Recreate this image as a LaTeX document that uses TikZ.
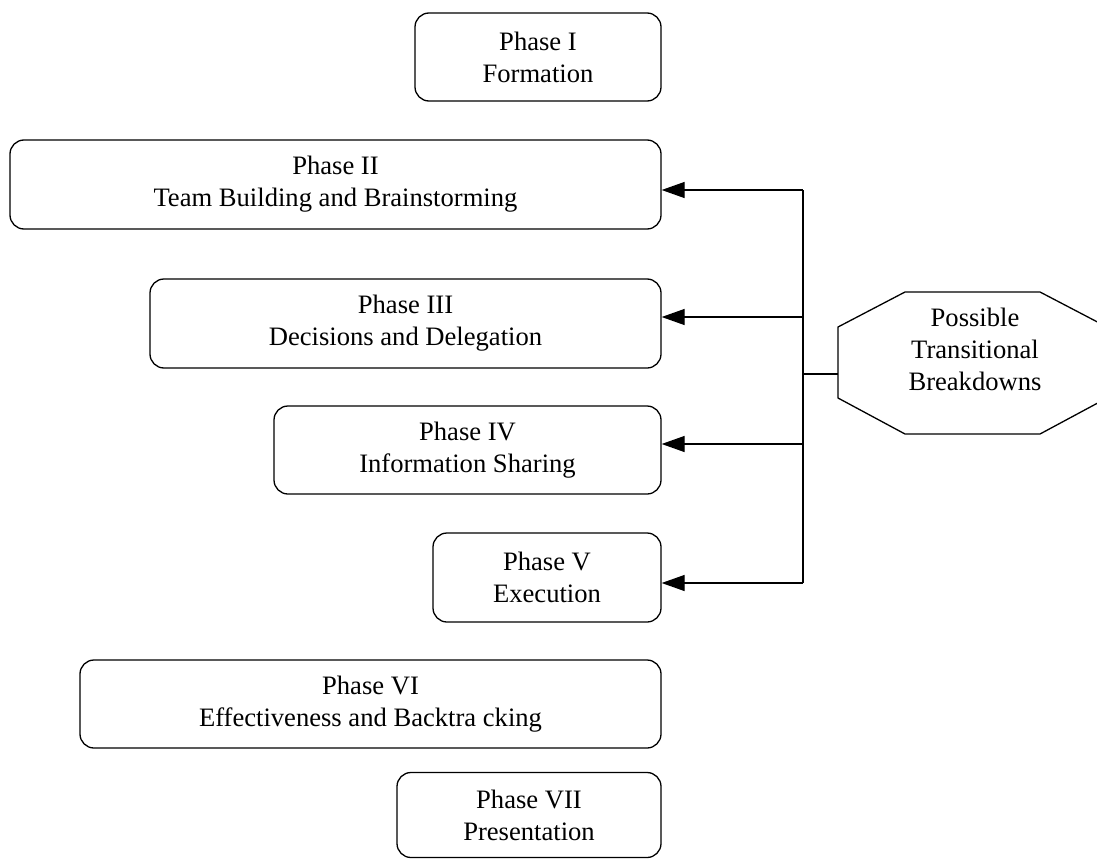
\documentclass[tikz,border=0pt]{standalone}
\usepackage{fontspec}
\setmainfont{Liberation Serif}
\usetikzlibrary{arrows.meta,calc}
\begin{document}
\begin{tikzpicture}[x=1pt,y=-1pt,line width=1.3pt,
  phase/.style={draw, rounded corners=14pt, align=center, inner sep=0pt,
    font=\fontsize{26.6}{32}\selectfont},
  label/.style={align=center, inner sep=0pt, font=\fontsize{26.6}{32}\selectfont},
  link/.style={-{Triangle[length=23pt,width=16pt]}}]
\useasboundingbox (0,0) rectangle (1097,859);
% phases
\node[phase, minimum width=246pt, minimum height=88pt] (p1) at (538,57) {Phase I\\Formation};
\node[phase, minimum width=651pt, minimum height=89pt] (p2) at (335.5,184.5) {Phase II\\Team Building and Brainstorming};
\node[phase, minimum width=511pt, minimum height=89pt] (p3) at (405.5,323.5) {Phase III\\Decisions and Delegation};
\node[phase, minimum width=387pt, minimum height=88pt] (p4) at (467.5,450) {Phase IV\\Information Sharing};
\node[phase, minimum width=228pt, minimum height=89pt] (p5) at (547,577.5) {Phase V\\Execution};
\node[phase, minimum width=581pt, minimum height=88pt] (p6) at (370.5,704) {Phase VI\\Effectiveness and Backtra cking};
\node[phase, minimum width=264pt, minimum height=85pt] (p7) at (529,815) {Phase VII\\Presentation};
% octagon
\draw (838,327) -- (905,292) -- (1040,292) -- (1107,327) -- (1107,398) -- (1040,434) -- (905,434) -- (838,398) -- cycle;
\node[label] (pb) at (975,349) {Possible\\Transitional\\Breakdowns};
% connectors
\coordinate (b2) at (803,190);
\coordinate (b3) at (803,317);
\coordinate (b4) at (803,444);
\coordinate (b5) at (803,583);
\coordinate (bj) at (803,374);
\coordinate (oc) at (838,374);
\draw (b2) -- (b5);
\draw (oc) -- (bj);
\draw[link] (b2) -- (b2 -| p2.east);
\draw[link] (b3) -- (b3 -| p3.east);
\draw[link] (b4) -- (b4 -| p4.east);
\draw[link] (b5) -- (b5 -| p5.east);
\end{tikzpicture}
\end{document}
